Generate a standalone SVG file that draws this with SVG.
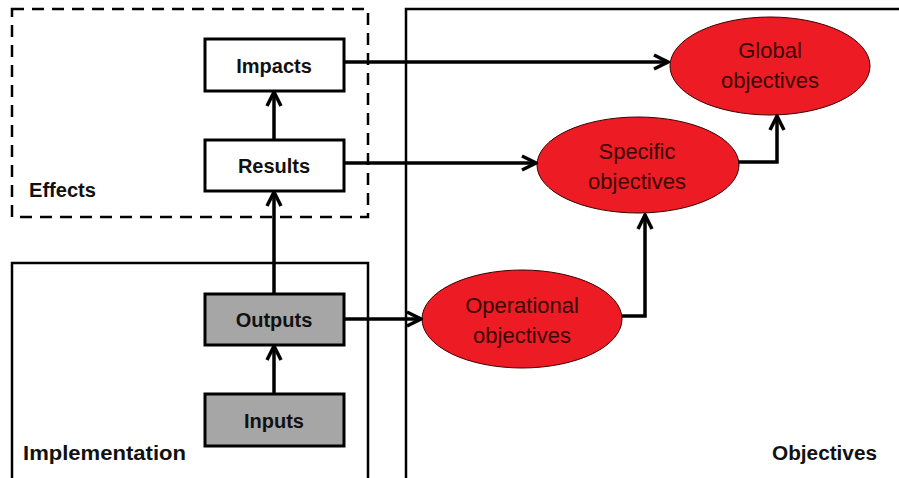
<svg xmlns="http://www.w3.org/2000/svg" width="899" height="478" viewBox="0 0 899 478">
<style>
.frame{fill:none;stroke:#000;stroke-width:2.5}
.box{fill:#fff;stroke:#000;stroke-width:3}
.gbox{fill:#a6a6a6;stroke:#000;stroke-width:3}
.ell{fill:#ed1c24;stroke:#3a0000;stroke-width:1}
.lbl{font-family:"Liberation Sans",Arial,sans-serif;font-weight:bold;font-size:20px;fill:#111;text-anchor:middle}
.grp{font-family:"Liberation Sans",Arial,sans-serif;font-weight:bold;font-size:20px;fill:#111}
.obj{font-family:"Liberation Sans",Arial,sans-serif;font-size:22px;fill:#3a0505;text-anchor:middle}
.con{fill:none;stroke:#000;stroke-width:3.5;marker-end:url(#arr)}
</style>
<defs>
<marker id="arr" viewBox="0 0 10 10" refX="9" refY="5" markerWidth="5" markerHeight="5" orient="auto" markerUnits="strokeWidth">
<path d="M1,1 L9,5 L1,9" fill="none" stroke="#000" stroke-width="2"/>
</marker>
</defs>
<rect width="899" height="478" fill="#fff"/>
<g id="effects">
<rect x="12" y="9" width="356" height="208" class="frame" stroke-dasharray="12,8"/>
<text x="29" y="197" class="grp" textLength="67" lengthAdjust="spacingAndGlyphs">Effects</text>
</g>
<g id="implementation">
<rect x="12" y="263" width="356" height="230" class="frame"/>
<text x="23" y="460" class="grp" textLength="163" lengthAdjust="spacingAndGlyphs">Implementation</text>
</g>
<g id="objectives">
<rect x="406" y="9" width="510" height="490" class="frame"/>
<text x="877" y="460" class="grp" text-anchor="end" textLength="105" lengthAdjust="spacingAndGlyphs">Objectives</text>
</g>
<g id="impacts">
<rect x="205" y="39" width="139" height="52" class="box"/>
<text x="274" y="73" class="lbl">Impacts</text>
</g>
<g id="results">
<rect x="205" y="140" width="139" height="51" class="box"/>
<text x="274" y="173" class="lbl">Results</text>
</g>
<g id="outputs">
<rect x="205" y="294" width="139" height="51" class="gbox"/>
<text x="274" y="327" class="lbl">Outputs</text>
</g>
<g id="inputs">
<rect x="205" y="394" width="139" height="52" class="gbox"/>
<text x="274" y="428" class="lbl">Inputs</text>
</g>
<g id="global">
<ellipse cx="770" cy="66" rx="100" ry="49" class="ell"/>
<text x="770" y="58" class="obj">Global</text>
<text x="770" y="88" class="obj">objectives</text>
</g>
<g id="specific">
<ellipse cx="638" cy="165" rx="101" ry="48" class="ell"/>
<text x="637" y="159" class="obj">Specific</text>
<text x="637" y="189" class="obj">objectives</text>
</g>
<g id="operational">
<ellipse cx="522" cy="319" rx="100" ry="49" class="ell"/>
<text x="522" y="313" class="obj">Operational</text>
<text x="522" y="343" class="obj">objectives</text>
</g>
<g id="connectors">
<path class="con" d="M274,140 V92"/>
<path class="con" d="M274,294 V192"/>
<path class="con" d="M274,394 V346"/>
<path class="con" d="M344,62 H668"/>
<path class="con" d="M344,163 H536"/>
<path class="con" d="M344,319 H421"/>
<path class="con" d="M622,316 H645 V215"/>
<path class="con" d="M738,162 H777 V116"/>
</g>
</svg>
